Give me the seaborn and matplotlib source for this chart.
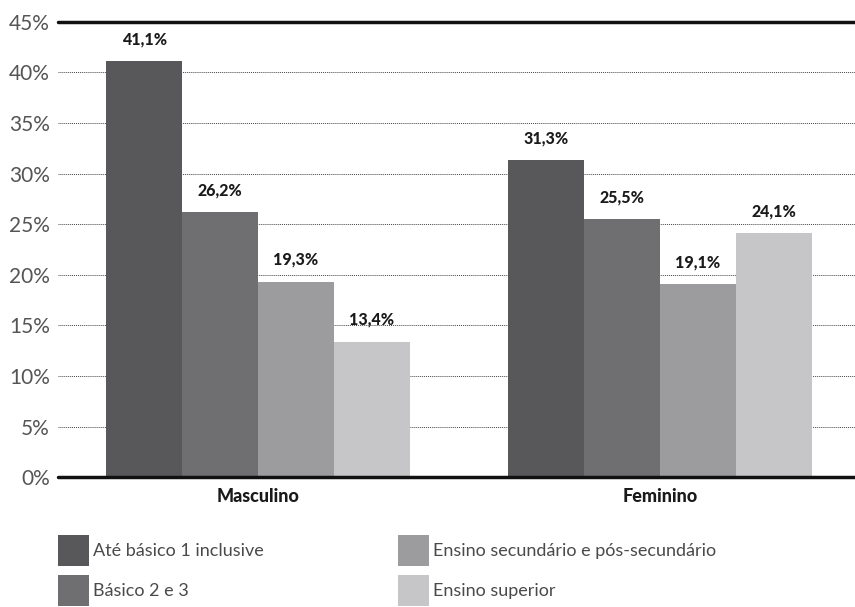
import matplotlib
matplotlib.use("Agg")
import matplotlib.pyplot as plt
import seaborn as sns
import pandas as pd
from matplotlib.patches import Patch

sexo = ["Masculino", "Feminino"]
niveis = ["Até básico 1 inclusive", "Básico 2 e 3",
          "Ensino secundário e pós-secundário", "Ensino superior"]
masculino = [41.1, 26.2, 19.3, 13.4]
feminino = [31.3, 25.5, 19.1, 24.1]
cores = ["#58585a", "#6f6f71", "#9c9c9e", "#c6c6c8"]

rows = []
for s, vals in zip(sexo, [masculino, feminino]):
    for n, v in zip(niveis, vals):
        rows.append({"sexo": s, "nivel": n, "valor": v})
df = pd.DataFrame(rows)

sns.set_style("white")
plt.rcParams['font.family'] = ['Lato', 'DejaVu Sans']

fig = plt.figure(figsize=(8.55, 6.07), dpi=100)
ax = fig.add_axes([0.068, 0.214, 0.932, 0.75])

sns.barplot(data=df, x="sexo", y="valor", hue="nivel", order=sexo,
            hue_order=niveis, palette=cores, width=0.755, saturation=1,
            legend=False, linewidth=0, ax=ax)

for cont, vals in zip(ax.containers, [[masculino[i], feminino[i]] for i in range(4)]):
    ax.bar_label(cont, labels=[f"{v:.1f}%".replace(".", ",") for v in vals],
                 padding=10, fontsize=11.5, fontweight="black", color="#1a1a1a")

ax.set_ylim(0, 45)
ax.set_xlim(-0.497, 1.485)
ax.set_yticks(range(0, 50, 5))
ax.set_yticklabels([f"{t}%" for t in range(0, 50, 5)], fontsize=15,
                   color="#555555", fontweight="normal")
for t in range(5, 45, 5):
    ax.axhline(t, color="#444444", lw=0.7, ls=(0, (1, 1)), zorder=0)
ax.axhline(0, color="#111111", lw=2.5, zorder=5, clip_on=False)
ax.axhline(45, color="#111111", lw=2.5, zorder=5, clip_on=False)
for sp in ax.spines.values():
    sp.set_visible(False)
ax.tick_params(axis="y", length=0, pad=6)
ax.tick_params(axis="x", length=0, pad=8)
ax.set_xticks([0, 1])
ax.set_xticklabels(sexo, fontsize=13, fontweight="black", color="#1a1a1a")
ax.set_xlabel("")
ax.set_ylabel("")

handles = [Patch(facecolor=c, edgecolor="none") for c in cores]
fig.legend(handles, niveis, loc="upper left", bbox_to_anchor=(0.049, 0.145),
           ncol=2, frameon=False, handlelength=1.72,
           handleheight=2.26, handletextpad=0.2, columnspacing=7.45,
           labelspacing=0.5, labelcolor="#4a4a4a",
           prop={"weight": "normal", "size": 13})

fig.savefig("out.png", dpi=100)
